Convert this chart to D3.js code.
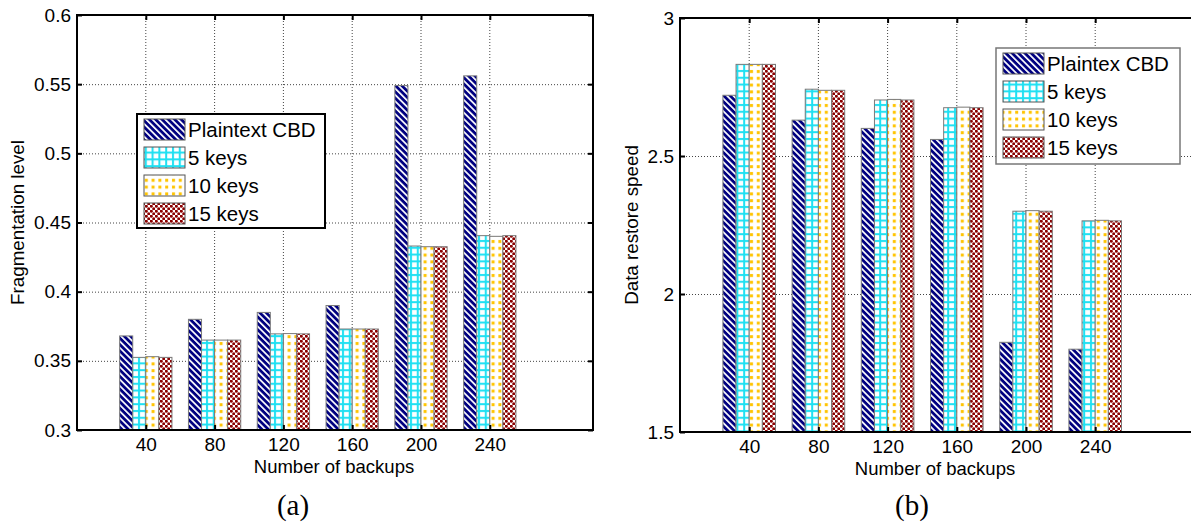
<!DOCTYPE html>
<html>
<head>
<meta charset="utf-8">
<script src="https://cdn.jsdelivr.net/npm/d3@7"></script>
<style>
  html, body { margin: 0; padding: 0; background: #fff; }
  svg { display: block; }
  text { font-family: "Liberation Sans", Arial, sans-serif; fill: #000; }
</style>
</head>
<body>
<svg id="chart" width="1191" height="529"></svg>
<script>
// ---------- data ----------
const categories = [40, 80, 120, 160, 200, 240];

const fragPlain = [0.368, 0.380, 0.385, 0.390, 0.549, 0.556];
const frag5     = [0.3525, 0.365, 0.3695, 0.373, 0.433, 0.4405];
const frag10    = [0.353, 0.365, 0.3697, 0.373, 0.4325, 0.440];
const frag15    = [0.3525, 0.365, 0.3695, 0.373, 0.4325, 0.4405];

const speedPlain = [2.72, 2.63, 2.60, 2.56, 1.825, 1.80];
const speed5     = [2.832, 2.742, 2.703, 2.675, 2.30, 2.265];
const speed10    = [2.832, 2.738, 2.705, 2.677, 2.302, 2.267];
const speed15    = [2.832, 2.738, 2.703, 2.675, 2.30, 2.265];

const legendA = ["Plaintext CBD", "5 keys", "10 keys", "15 keys"];
const legendB = ["Plaintex CBD", "5 keys", "10 keys", "15 keys"];

const yTicksA = [0.3, 0.35, 0.4, 0.45, 0.5, 0.55, 0.6];
const yTicksB = [1.5, 2, 2.5, 3];

const xTitle = "Number of backups";
const yTitleA = "Fragmentation level";
const yTitleB = "Data restore speed";
const captionA = "(a)";
const captionB = "(b)";

// ---------- patterns ----------
const svg = d3.select("#chart");
const defs = svg.append("defs");

const pStripe = defs.append("pattern").attr("id", "pat0")
  .attr("patternUnits", "userSpaceOnUse").attr("width", 4.5).attr("height", 4.5)
  .attr("patternTransform", "rotate(-45)");
pStripe.append("rect").attr("width", 4.5).attr("height", 4.5).attr("fill", "#000080");
pStripe.append("rect").attr("width", 1.7).attr("height", 4.5).attr("fill", "#ffffff");

const pGrid = defs.append("pattern").attr("id", "pat1")
  .attr("patternUnits", "userSpaceOnUse").attr("width", 6.8).attr("height", 6.8);
pGrid.append("rect").attr("width", 6.8).attr("height", 6.8).attr("fill", "#ffffff");
pGrid.append("rect").attr("x", 2).attr("width", 2).attr("height", 6.8).attr("fill", "#1ee0f2");
pGrid.append("rect").attr("y", 2).attr("width", 6.8).attr("height", 2).attr("fill", "#1ee0f2");

const pDots = defs.append("pattern").attr("id", "pat2")
  .attr("patternUnits", "userSpaceOnUse").attr("width", 6.8).attr("height", 6.8);
pDots.append("rect").attr("width", 6.8).attr("height", 6.8).attr("fill", "#ffffff");
pDots.append("rect").attr("x", 2).attr("y", 2).attr("width", 3).attr("height", 3).attr("fill", "#ffc400");

const pCheck = defs.append("pattern").attr("id", "pat3")
  .attr("patternUnits", "userSpaceOnUse").attr("width", 5).attr("height", 5);
pCheck.append("rect").attr("width", 5).attr("height", 5).attr("fill", "#ffffff");
[[1.25, 1.25], [3.75, 3.75]].forEach(([cx, cy]) => {
  pCheck.append("circle").attr("cx", cx).attr("cy", cy).attr("r", 1.55).attr("fill", "#8b0000");
});

const fills = ["url(#pat0)", "url(#pat1)", "url(#pat2)", "url(#pat3)"];

// ---------- panel ----------
function drawPanel(cfg) {
  const g = svg.append("g");
  const x = d3.scaleLinear().domain([0, 300]).range([cfg.x0, cfg.x1]);
  const y = d3.scaleLinear().domain(cfg.yDomain).range([cfg.y1, cfg.y0]);

  const clipId = "clip" + cfg.id;
  defs.append("clipPath").attr("id", clipId).append("rect")
    .attr("x", cfg.x0).attr("y", cfg.y0)
    .attr("width", cfg.x1 - cfg.x0).attr("height", cfg.y1 - cfg.y0);

  const inner = g.append("g").attr("clip-path", `url(#${clipId})`);

  // grid
  inner.selectAll("line.gx").data(categories).enter().append("line")
    .attr("x1", d => x(d)).attr("x2", d => x(d))
    .attr("y1", cfg.y0).attr("y2", cfg.y1)
    .attr("stroke", "#444").attr("stroke-width", 1).attr("stroke-dasharray", "1,2");
  inner.selectAll("line.gy").data(cfg.yTicks.slice(1, -1)).enter().append("line")
    .attr("x1", cfg.x0).attr("x2", cfg.x1)
    .attr("y1", d => y(d) + 0.5).attr("y2", d => y(d) + 0.5)
    .attr("stroke", "#444").attr("stroke-width", 1).attr("stroke-dasharray", "1,2");

  // bars
  const step = x(40) - x(0);
  const bw = step * 0.19;
  cfg.series.forEach((vals, si) => {
    inner.selectAll("rect.s" + si).data(vals).enter().append("rect")
      .attr("x", (d, i) => x(categories[i]) + (si - 2) * bw)
      .attr("width", bw)
      .attr("y", d => y(d))
      .attr("height", d => y(cfg.yDomain[0]) - y(d))
      .attr("fill", fills[si])
      .attr("stroke", "#7a7a7a").attr("stroke-width", 1);
  });

  // axes (ticks inside)
  const axB = d3.axisBottom(x).tickValues(categories).tickSize(-5).tickPadding(8).tickFormat(d3.format("d"));
  const axT = d3.axisTop(x).tickValues(categories).tickSize(-5).tickFormat("");
  const axL = d3.axisLeft(y).tickValues(cfg.yTicks).tickSize(-5).tickPadding(6).tickFormat(d => String(d));
  const axR = d3.axisRight(y).tickValues(cfg.yTicks).tickSize(-5).tickFormat("");

  const gb = g.append("g").attr("transform", `translate(0,${cfg.y1})`).call(axB);
  const gt = g.append("g").attr("transform", `translate(0,${cfg.y0})`).call(axT);
  const gl = g.append("g").attr("transform", `translate(${cfg.x0},0)`).call(axL);
  const gr = g.append("g").attr("transform", `translate(${cfg.x1},0)`).call(axR);
  [gb, gt, gl, gr].forEach(a => {
    a.select(".domain").remove();
    a.selectAll(".tick line").attr("stroke", "#000").attr("stroke-width", 2);
    a.selectAll("text").style("font-family", '"Liberation Sans", Arial, sans-serif')
      .style("font-size", "19px").attr("fill", "#000");
  });

  // box
  g.append("rect").attr("x", cfg.x0).attr("y", cfg.y0)
    .attr("width", cfg.x1 - cfg.x0).attr("height", cfg.y1 - cfg.y0)
    .attr("fill", "none").attr("stroke", "#000").attr("stroke-width", 2);

  // titles
  g.append("text").attr("x", cfg.xTitleX).attr("y", cfg.y1 + 43)
    .attr("text-anchor", "middle").style("font-size", "18.5px").text(xTitle);
  g.append("text")
    .attr("transform", `translate(${cfg.yTitleX},${(cfg.y0 + cfg.y1) / 2}) rotate(-90)`)
    .attr("text-anchor", "middle").style("font-size", "18.8px").text(cfg.yTitle);
  g.append("text").attr("x", cfg.capX).attr("y", 515)
    .attr("text-anchor", "middle")
    .style("font-family", '"Liberation Serif", "DejaVu Serif", serif')
    .style("font-size", "29px").text(cfg.caption);

  // legend
  const L = cfg.legend;
  const lg = g.append("g");
  lg.append("rect").attr("x", L.x).attr("y", L.y).attr("width", L.w).attr("height", L.h)
    .attr("fill", "#fff").attr("stroke", L.stroke).attr("stroke-width", L.sw);
  L.labels.forEach((lab, i) => {
    const py = L.y + L.pad + i * 28;
    lg.append("rect").attr("x", L.x + 7).attr("y", py).attr("width", 41).attr("height", 21)
      .attr("fill", fills[i]).attr("stroke", "#555").attr("stroke-width", 1);
    lg.append("text").attr("x", L.x + 51).attr("y", py + 18)
      .style("font-size", "20.5px").text(lab);
  });
}

drawPanel({
  id: "A", x0: 77, x1: 593, y0: 15, y1: 430,
  yDomain: [0.3, 0.6], yTicks: yTicksA,
  series: [fragPlain, frag5, frag10, frag15],
  yTitle: yTitleA, yTitleX: 24, caption: captionA, capX: 293, xTitleX: 334,
  legend: { x: 137, y: 114, w: 188, h: 114, pad: 5, stroke: "#000", sw: 2, labels: legendA }
});

drawPanel({
  id: "B", x0: 680, x1: 1199, y0: 18, y1: 432,
  yDomain: [1.5, 3], yTicks: yTicksB,
  series: [speedPlain, speed5, speed10, speed15],
  yTitle: yTitleB, yTitleX: 638, caption: captionB, capX: 912, xTitleX: 935,
  legend: { x: 996, y: 48, w: 184, h: 116, pad: 5, stroke: "#777", sw: 1.5, labels: legendB }
});
</script>
</body>
</html>
